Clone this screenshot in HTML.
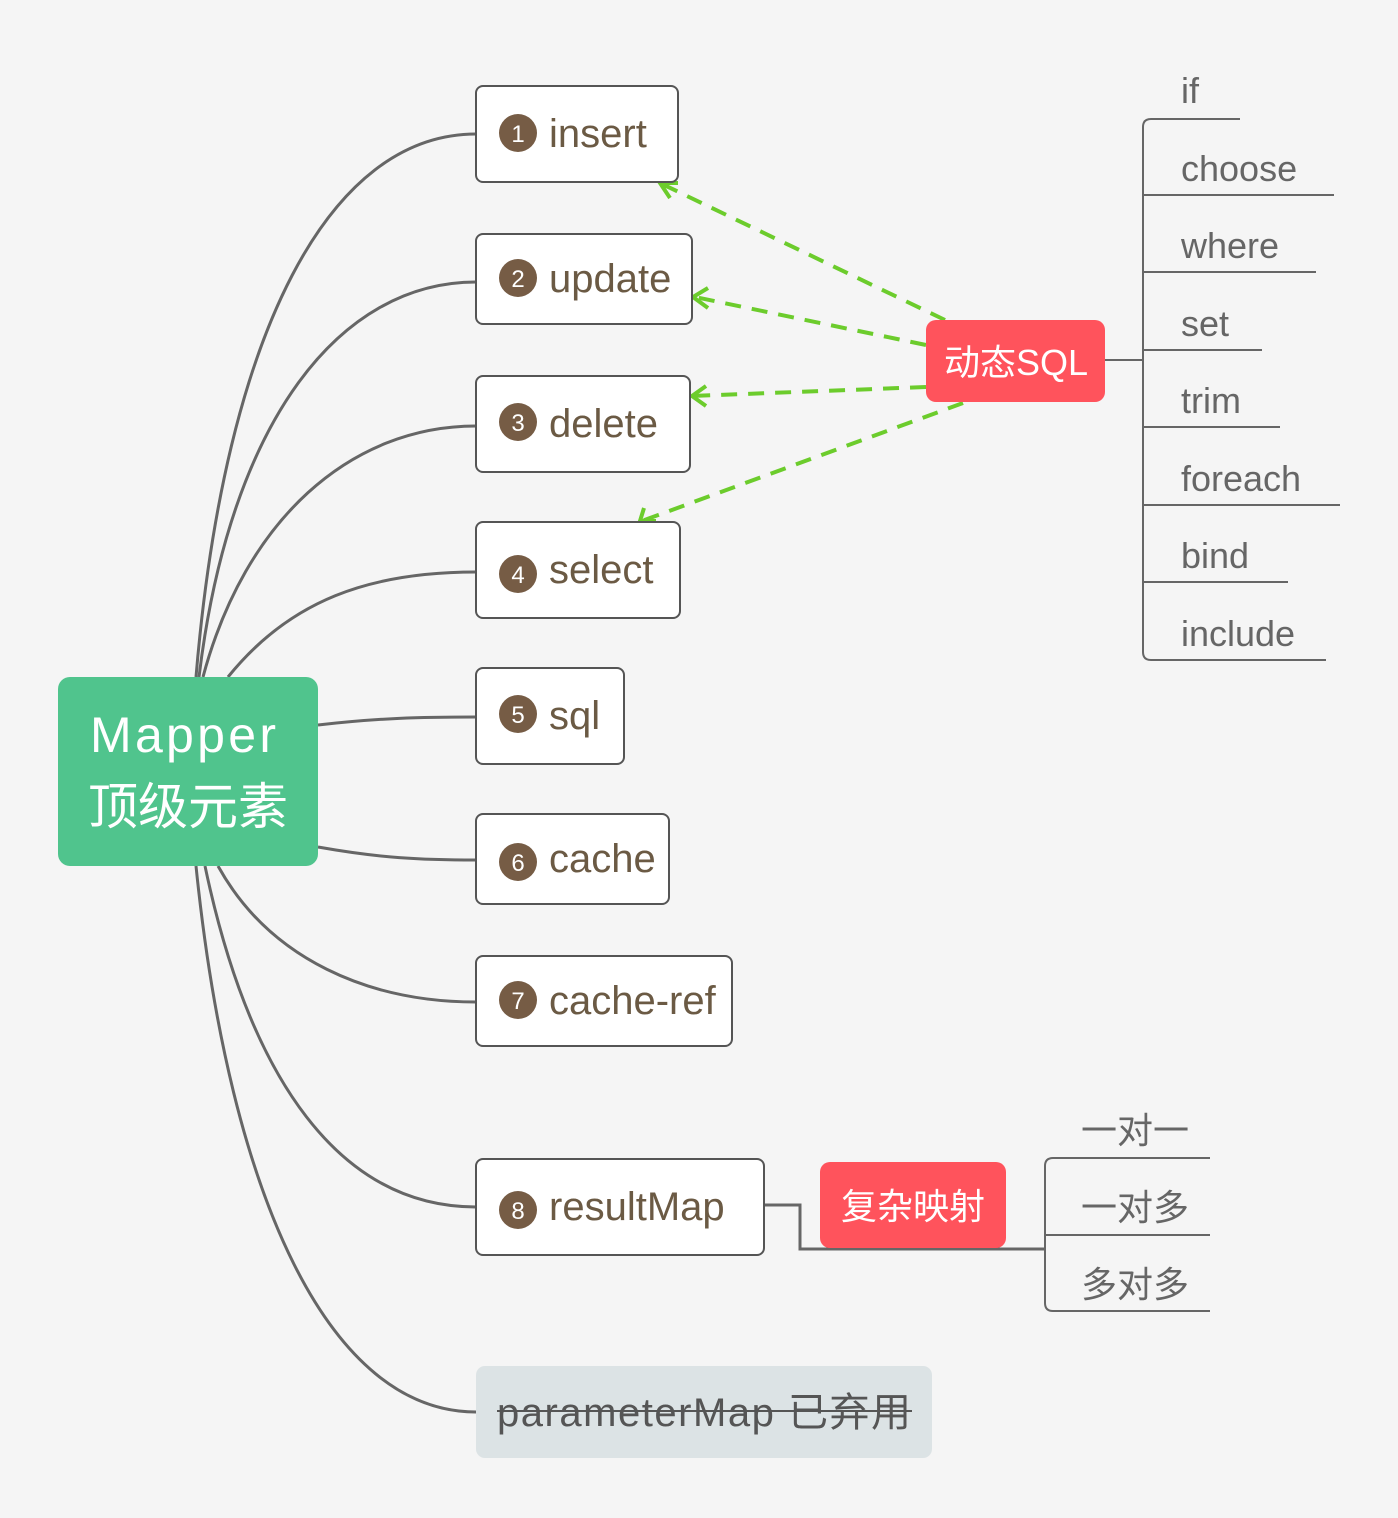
<!DOCTYPE html>
<html><head><meta charset="utf-8"><style>
html,body{margin:0;padding:0;background:#f5f5f5}
svg{display:block}
text{font-family:"Liberation Sans","Noto Sans CJK SC",sans-serif}
.n{fill:#6b5a44;font-size:40px}
.b{fill:#fff;font-size:24px;text-anchor:middle}
.g{fill:#666;font-size:36px}
</style></head><body>
<svg width="1398" height="1518" viewBox="0 0 1398 1518" xmlns="http://www.w3.org/2000/svg">
<rect width="1398" height="1518" fill="#f5f5f5"/>
<g fill="none" stroke="#666" stroke-width="3">
<path d="M196 677 C225 330 330 134 476 134"/>
<path d="M199 677 C230 420 340 282 476 282"/>
<path d="M203 677 C245 520 350 426 476 426"/>
<path d="M228 677 C290 600 370 572 476 572"/>
<path d="M318 725 C380 718 420 717 476 717"/>
<path d="M318 847 C380 858 420 860 476 860"/>
<path d="M218 866 C270 960 370 1002 476 1002"/>
<path d="M205 866 C250 1080 340 1207 476 1207"/>
<path d="M196 866 C230 1200 330 1412 476 1412"/>
<path d="M764 1205 H800 V1249 H1045"/>
<path d="M1105 360 H1143" stroke-width="2"/>
<path d="M1240 119 H1151 Q1143 119 1143 127 V652 Q1143 660 1151 660 H1326" stroke-width="2"/>
<path d="M1143 195 H1334 M1143 272 H1316 M1143 350 H1262 M1143 427 H1280 M1143 505 H1340 M1143 582 H1288" stroke-width="2"/>
<path d="M1210 1158 H1053 Q1045 1158 1045 1166 V1303 Q1045 1311 1053 1311 H1210 M1045 1235 H1210" stroke-width="2"/>
</g>
<g fill="none" stroke="#6ccc2c" stroke-width="4" stroke-dasharray="16 11">
<path d="M945 320 L662 184"/>
<path d="M926 345 L695 297"/>
<path d="M926 387 L692 396"/>
<path d="M963 403 L642 521"/>
</g>
<g fill="none" stroke="#6ccc2c" stroke-width="4">
<path d="M670 198 L660 183 L678 183"/>
<path d="M708 288 L693 297 L708 308"/>
<path d="M706 386 L692 396 L706 406"/>
<path d="M644 508 L640 521 L656 521"/>
</g>
<rect x="58" y="677" width="260" height="189" rx="12" fill="#50c48d"/>
<text x="183" y="752" fill="#fff" font-size="50" text-anchor="middle" textLength="186">Mapper</text>
<text x="188" y="824" fill="#fff" font-size="50" text-anchor="middle">顶级元素</text>
<g fill="#fff" stroke="#555" stroke-width="2">
<rect x="476" y="86" width="202" height="96" rx="7"/>
<rect x="476" y="234" width="216" height="90" rx="7"/>
<rect x="476" y="376" width="214" height="96" rx="7"/>
<rect x="476" y="522" width="204" height="96" rx="7"/>
<rect x="476" y="668" width="148" height="96" rx="7"/>
<rect x="476" y="814" width="193" height="90" rx="7"/>
<rect x="476" y="956" width="256" height="90" rx="7"/>
<rect x="476" y="1159" width="288" height="96" rx="7"/>
</g>
<g fill="#765c45">
<circle cx="518" cy="133" r="19"/><circle cx="518" cy="278" r="19"/><circle cx="518" cy="422" r="19"/>
<circle cx="518" cy="574" r="19"/><circle cx="518" cy="714" r="19"/><circle cx="518" cy="862" r="19"/>
<circle cx="518" cy="1000" r="19"/><circle cx="518" cy="1210" r="19"/>
</g>
<text class="b" x="518" y="142">1</text><text class="b" x="518" y="287">2</text><text class="b" x="518" y="431">3</text>
<text class="b" x="518" y="583">4</text><text class="b" x="518" y="723">5</text><text class="b" x="518" y="871">6</text>
<text class="b" x="518" y="1009">7</text><text class="b" x="518" y="1219">8</text>
<text class="n" x="549" y="147">insert</text>
<text class="n" x="549" y="292">update</text>
<text class="n" x="549" y="437">delete</text>
<text class="n" x="549" y="583">select</text>
<text class="n" x="549" y="729">sql</text>
<text class="n" x="549" y="872">cache</text>
<text class="n" x="549" y="1014">cache-ref</text>
<text class="n" x="549" y="1220">resultMap</text>
<rect x="476" y="1366" width="456" height="92" rx="9" fill="#dce3e5"/>
<text x="497" y="1426" fill="#555" font-size="40" textLength="414">parameterMap 已弃用</text>
<line x1="497" y1="1411" x2="912" y2="1411" stroke="#555" stroke-width="2"/>
<rect x="926" y="320" width="179" height="82" rx="10" fill="#ff535c"/>
<text x="1016" y="375" fill="#fff" font-size="36" text-anchor="middle">动态SQL</text>
<rect x="820" y="1162" width="186" height="86" rx="10" fill="#ff535c"/>
<text x="913" y="1219" fill="#fff" font-size="36" text-anchor="middle">复杂映射</text>
<text class="g" x="1181" y="103">if</text>
<text class="g" x="1181" y="181">choose</text>
<text class="g" x="1181" y="258">where</text>
<text class="g" x="1181" y="336">set</text>
<text class="g" x="1181" y="413">trim</text>
<text class="g" x="1181" y="491">foreach</text>
<text class="g" x="1181" y="568">bind</text>
<text class="g" x="1181" y="646">include</text>
<text class="g" x="1135" y="1143" text-anchor="middle">一对一</text>
<text class="g" x="1135" y="1220" text-anchor="middle">一对多</text>
<text class="g" x="1135" y="1297" text-anchor="middle">多对多</text>
</svg>
</body></html>
